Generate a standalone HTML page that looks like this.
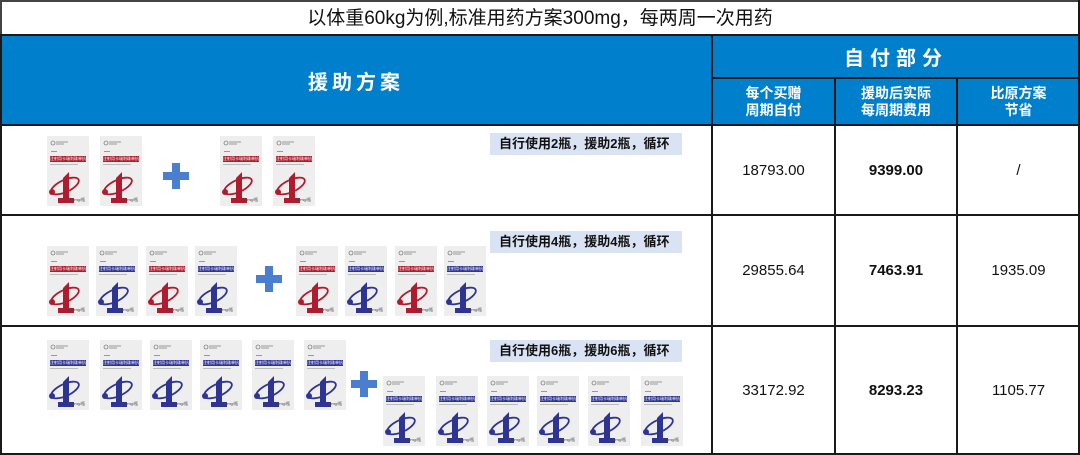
<!DOCTYPE html>
<html><head><meta charset="utf-8">
<style>
*{margin:0;padding:0;box-sizing:border-box}
body{width:1080px;height:455px;background:#fff;font-family:"Liberation Sans","Noto Sans CJK SC",sans-serif;position:relative;overflow:hidden}
.a{position:absolute}
.t{left:0;top:0;width:1080px;height:36px;border:2px solid #444;border-bottom:none;text-align:center;font-size:19px;line-height:34px;color:#111}
.hd{background:#0080cc;color:#fff;font-weight:bold;text-align:center;display:flex;align-items:center;justify-content:center}
.hl{background:#1a1a1a}
.num{font-size:15px;color:#111;text-align:center;display:flex;align-items:center;justify-content:center}
.lb{background:#dae3f3;font-size:13px;font-weight:bold;color:#111;line-height:22px;padding-left:9px;width:192px;height:22px}
.pk{position:absolute;width:42px;height:70px;background:#eeeeee}
.pk svg{position:absolute;left:0;top:0}
.pk .d{position:absolute;right:4px;bottom:3px;font-size:4px;color:#444;white-space:nowrap}
.pk .n{position:absolute;left:3px;top:20px;width:36px;height:6px;font-size:4px;color:#fff;line-height:6px;white-space:nowrap;overflow:hidden}
.r .n{background:#b01c2e}.b .n{background:#2e3494}
.plus{position:absolute;width:26px;height:26px}
.plus:before{content:"";position:absolute;left:0;top:9px;width:26px;height:8px;background:#4a7fd0}
.plus:after{content:"";position:absolute;left:9px;top:0;width:8px;height:26px;background:#4a7fd0}
</style></head><body>
<svg width="0" height="0" style="position:absolute">
<defs>
<g id="ic">
<circle cx="6" cy="7" r="2" fill="none" stroke="#555" stroke-width=".6"/>
<rect x="9" y="5.5" width="12" height="1" fill="#999"/>
<rect x="9" y="7.5" width="8" height="1" fill="#999"/>
<rect x="4" y="15" width="6" height="1" fill="#999"/>
<rect x="3" y="28" width="28" height="1" fill="#bbb"/>
<path d="M16 42 L22 36 L22 62 L27 62 L27 67 L11 67 L11 62 L16 62 Z" fill="currentColor"/>
<ellipse cx="18" cy="50" rx="15" ry="6" transform="rotate(-25 18 50)" fill="none" stroke="currentColor" stroke-width="1.8"/>
<circle cx="5" cy="56" r="3" fill="currentColor"/>
</g>
</defs></svg>

<div class="a t">以体重60kg为例,标准用药方案300mg，每两周一次用药</div>
<div class="a hd" style="left:0;top:35px;width:712px;height:90px;font-size:20px;letter-spacing:4px">援助方案</div>
<div class="a hd" style="left:712px;top:35px;width:368px;height:43px;font-size:20px;letter-spacing:6px">自付部分</div>
<div class="a hd" style="left:712px;top:78px;width:123px;height:47px;font-size:14px;line-height:17px">每个买赠<br>周期自付</div>
<div class="a hd" style="left:835px;top:78px;width:122px;height:47px;font-size:14px;line-height:17px">援助后实际<br>每周期费用</div>
<div class="a hd" style="left:957px;top:78px;width:123px;height:47px;font-size:14px;line-height:17px">比原方案<br>节省</div>

<!-- grid lines -->
<div class="a hl" style="left:0;top:34px;width:1080px;height:2px"></div>
<div class="a hl" style="left:712px;top:77px;width:368px;height:2px"></div>
<div class="a hl" style="left:0;top:124px;width:1080px;height:2px"></div>
<div class="a hl" style="left:0;top:214px;width:1080px;height:2px"></div>
<div class="a hl" style="left:0;top:325px;width:1080px;height:2px"></div>
<div class="a hl" style="left:0;top:453px;width:1080px;height:2px"></div>
<div class="a hl" style="left:0;top:34px;width:2px;height:421px"></div>
<div class="a hl" style="left:1078px;top:0;width:2px;height:455px"></div>
<div class="a hl" style="left:711px;top:34px;width:2px;height:421px"></div>
<div class="a hl" style="left:834px;top:77px;width:2px;height:378px"></div>
<div class="a hl" style="left:956px;top:77px;width:2px;height:378px"></div>

<!-- numbers -->
<div class="a num" style="left:712px;top:126px;width:123px;height:88px">18793.00</div>
<div class="a num" style="left:835px;top:126px;width:122px;height:88px;font-weight:bold">9399.00</div>
<div class="a num" style="left:957px;top:126px;width:123px;height:88px">/</div>
<div class="a num" style="left:712px;top:216px;width:123px;height:109px">29855.64</div>
<div class="a num" style="left:835px;top:216px;width:122px;height:109px;font-weight:bold">7463.91</div>
<div class="a num" style="left:957px;top:216px;width:123px;height:109px">1935.09</div>
<div class="a num" style="left:712px;top:327px;width:123px;height:126px">33172.92</div>
<div class="a num" style="left:835px;top:327px;width:122px;height:126px;font-weight:bold">8293.23</div>
<div class="a num" style="left:957px;top:327px;width:123px;height:126px">1105.77</div>

<!-- labels -->
<div class="a lb" style="left:490px;top:133px">自行使用2瓶，援助2瓶，循环</div>
<div class="a lb" style="left:490px;top:231px">自行使用4瓶，援助4瓶，循环</div>
<div class="a lb" style="left:490px;top:340px">自行使用6瓶，援助6瓶，循环</div>

<!-- row 1 -->
<div class="pk r" style="left:47px;top:136px;color:#b01c2e"><svg width="42" height="70"><use href="#ic"/></svg><div class="n">注射用卡瑞利珠单抗</div><div class="d">200mg/瓶</div></div>
<div class="pk r" style="left:100px;top:136px;color:#b01c2e"><svg width="42" height="70"><use href="#ic"/></svg><div class="n">注射用卡瑞利珠单抗</div><div class="d">200mg/瓶</div></div>
<div class="plus" style="left:163px;top:163px"></div>
<div class="pk r" style="left:220px;top:136px;color:#b01c2e"><svg width="42" height="70"><use href="#ic"/></svg><div class="n">注射用卡瑞利珠单抗</div><div class="d">200mg/瓶</div></div>
<div class="pk r" style="left:273px;top:136px;color:#b01c2e"><svg width="42" height="70"><use href="#ic"/></svg><div class="n">注射用卡瑞利珠单抗</div><div class="d">200mg/瓶</div></div>

<!-- row 2 -->
<div class="pk r" style="left:47px;top:246px;color:#b01c2e"><svg width="42" height="70"><use href="#ic"/></svg><div class="n">注射用卡瑞利珠单抗</div><div class="d">200mg/瓶</div></div>
<div class="pk b" style="left:96px;top:246px;color:#2e3494"><svg width="42" height="70"><use href="#ic"/></svg><div class="n">注射用卡瑞利珠单抗</div><div class="d">100mg/瓶</div></div>
<div class="pk r" style="left:146px;top:246px;color:#b01c2e"><svg width="42" height="70"><use href="#ic"/></svg><div class="n">注射用卡瑞利珠单抗</div><div class="d">200mg/瓶</div></div>
<div class="pk b" style="left:195px;top:246px;color:#2e3494"><svg width="42" height="70"><use href="#ic"/></svg><div class="n">注射用卡瑞利珠单抗</div><div class="d">100mg/瓶</div></div>
<div class="plus" style="left:256px;top:266px"></div>
<div class="pk r" style="left:296px;top:246px;color:#b01c2e"><svg width="42" height="70"><use href="#ic"/></svg><div class="n">注射用卡瑞利珠单抗</div><div class="d">200mg/瓶</div></div>
<div class="pk b" style="left:345px;top:246px;color:#2e3494"><svg width="42" height="70"><use href="#ic"/></svg><div class="n">注射用卡瑞利珠单抗</div><div class="d">100mg/瓶</div></div>
<div class="pk r" style="left:395px;top:246px;color:#b01c2e"><svg width="42" height="70"><use href="#ic"/></svg><div class="n">注射用卡瑞利珠单抗</div><div class="d">200mg/瓶</div></div>
<div class="pk b" style="left:444px;top:246px;color:#2e3494"><svg width="42" height="70"><use href="#ic"/></svg><div class="n">注射用卡瑞利珠单抗</div><div class="d">100mg/瓶</div></div>

<!-- row 3 top -->
<div class="pk b" style="left:47px;top:340px;color:#2e3494"><svg width="42" height="70"><use href="#ic"/></svg><div class="n">注射用卡瑞利珠单抗</div><div class="d">100mg/瓶</div></div>
<div class="pk b" style="left:100px;top:340px;color:#2e3494"><svg width="42" height="70"><use href="#ic"/></svg><div class="n">注射用卡瑞利珠单抗</div><div class="d">100mg/瓶</div></div>
<div class="pk b" style="left:150px;top:340px;color:#2e3494"><svg width="42" height="70"><use href="#ic"/></svg><div class="n">注射用卡瑞利珠单抗</div><div class="d">100mg/瓶</div></div>
<div class="pk b" style="left:200px;top:340px;color:#2e3494"><svg width="42" height="70"><use href="#ic"/></svg><div class="n">注射用卡瑞利珠单抗</div><div class="d">100mg/瓶</div></div>
<div class="pk b" style="left:252px;top:340px;color:#2e3494"><svg width="42" height="70"><use href="#ic"/></svg><div class="n">注射用卡瑞利珠单抗</div><div class="d">100mg/瓶</div></div>
<div class="pk b" style="left:304px;top:340px;color:#2e3494"><svg width="42" height="70"><use href="#ic"/></svg><div class="n">注射用卡瑞利珠单抗</div><div class="d">100mg/瓶</div></div>
<div class="plus" style="left:351px;top:371px"></div>
<!-- row 3 bottom -->
<div class="pk b" style="left:383px;top:376px;color:#2e3494"><svg width="42" height="70"><use href="#ic"/></svg><div class="n">注射用卡瑞利珠单抗</div><div class="d">100mg/瓶</div></div>
<div class="pk b" style="left:436px;top:376px;color:#2e3494"><svg width="42" height="70"><use href="#ic"/></svg><div class="n">注射用卡瑞利珠单抗</div><div class="d">100mg/瓶</div></div>
<div class="pk b" style="left:487px;top:376px;color:#2e3494"><svg width="42" height="70"><use href="#ic"/></svg><div class="n">注射用卡瑞利珠单抗</div><div class="d">100mg/瓶</div></div>
<div class="pk b" style="left:537px;top:376px;color:#2e3494"><svg width="42" height="70"><use href="#ic"/></svg><div class="n">注射用卡瑞利珠单抗</div><div class="d">100mg/瓶</div></div>
<div class="pk b" style="left:588px;top:376px;color:#2e3494"><svg width="42" height="70"><use href="#ic"/></svg><div class="n">注射用卡瑞利珠单抗</div><div class="d">100mg/瓶</div></div>
<div class="pk b" style="left:641px;top:376px;color:#2e3494"><svg width="42" height="70"><use href="#ic"/></svg><div class="n">注射用卡瑞利珠单抗</div><div class="d">100mg/瓶</div></div>
</body></html>
